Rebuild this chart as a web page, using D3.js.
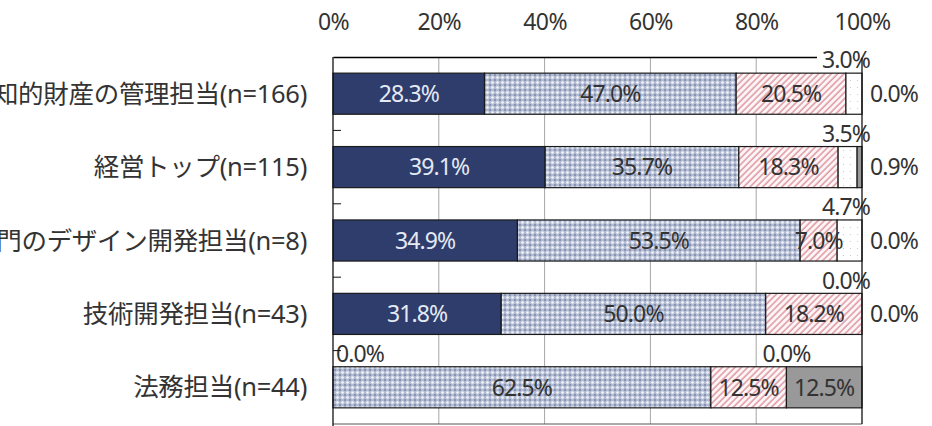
<!DOCTYPE html>
<html>
<head>
<meta charset="utf-8">
<script src="https://cdn.jsdelivr.net/npm/d3@7"></script>
<style>
  body { margin: 0; background: #fff; overflow: hidden; }
  text { font-family: "Noto Sans", "Noto Sans CJK JP", sans-serif; }
</style>
</head>
<body>
<div id="chart"></div>
<script>
// data
const categories = [
    "知的財産の管理担当(n=166)",
    "経営トップ(n=115)",
    "デザイン部門のデザイン開発担当(n=8)",
    "技術開発担当(n=43)",
    "法務担当(n=44)"
];
const keys = ["s1", "s2", "s3", "s4", "s5"];
const s1 = [28.3, 39.1, 34.9, 31.8, 0.0];
const s2 = [47.0, 35.7, 53.5, 50.0, 62.5];
const s3 = [20.5, 18.3, 7.0, 18.2, 12.5];
const s4 = [3.0, 3.5, 4.7, 0.0, 0.0];
const s5 = [0.0, 0.9, 0.0, 0.0, 12.5];
const tickValues = [0, 0.2, 0.4, 0.6, 0.8, 1];

const seriesValues = {s1, s2, s3, s4, s5};
const data = categories.map((c, i) => {
    const row = {cat: c};
    keys.forEach(k => row[k] = seriesValues[k][i]);
    return row;
});

// setup
const svgWidth = 932;
const svgHeight = 426;
const plot = {l: 333, r: 862, t: 57, b: 424};

const svg = d3.select("#chart").append("svg")
    .attr("width", svgWidth)
    .attr("height", svgHeight);

// fill patterns
const defs = svg.append("defs");

const dots = defs.append("pattern")
    .attr("id", "pDots")
    .attr("patternUnits", "userSpaceOnUse")
    .attr("width", 5).attr("height", 5);
dots.append("rect").attr("width", 5).attr("height", 5).attr("fill", "#b2bbd2");
dots.append("circle").attr("cx", 2.5).attr("cy", 2.5).attr("r", 1.3).attr("fill", "#f4f6fa");
[[0, 0], [5, 0], [0, 5], [5, 5]].forEach(p => dots.append("circle")
    .attr("cx", p[0]).attr("cy", p[1]).attr("r", 0.9).attr("fill", "#7380a3"));

const hatch = defs.append("pattern")
    .attr("id", "pHatch")
    .attr("patternUnits", "userSpaceOnUse")
    .attr("width", 4.5).attr("height", 4.5)
    .attr("patternTransform", "rotate(45)");
hatch.append("rect").attr("width", 4.5).attr("height", 4.5).attr("fill", "#fdf5f6");
hatch.append("line").attr("x1", 1).attr("y1", 0).attr("x2", 1).attr("y2", 4.5)
    .attr("stroke", "#d98a96").attr("stroke-width", 1.3);

const sparse = defs.append("pattern")
    .attr("id", "pSparse")
    .attr("patternUnits", "userSpaceOnUse")
    .attr("width", 7).attr("height", 7);
sparse.append("rect").attr("width", 7).attr("height", 7).attr("fill", "#fff");
sparse.append("circle").attr("cx", 3.5).attr("cy", 3.5).attr("r", 0.6).attr("fill", "#c4c4c4");

const fills = {s1: "#2e3d6b", s2: "url(#pDots)", s3: "url(#pHatch)", s4: "url(#pSparse)", s5: "#999999"};
const labelColors = {s1: "#e4e9f3", s2: "#333", s3: "#333", s4: "#333", s5: "#333"};

// scales
const x = d3.scaleLinear().domain([0, 1]).range([plot.l, plot.r]);
const y = d3.scaleBand().domain(categories).range([plot.t, plot.b])
    .paddingInner(0.44).paddingOuter(0.22);

// gridlines
svg.append("g")
    .selectAll("line")
    .data(tickValues.slice(1, -1))
    .enter()
    .append("line")
    .attr("x1", d => x(d)).attr("x2", d => x(d))
    .attr("y1", plot.t).attr("y2", plot.b)
    .attr("stroke", "#a6a6a6");

// bottom border
svg.append("line")
    .attr("x1", plot.l).attr("x2", plot.r)
    .attr("y1", plot.b).attr("y2", plot.b)
    .attr("stroke", "#555");

// top value axis
const topAxis = svg.append("g")
    .attr("transform", `translate(0,${plot.t})`)
    .call(d3.axisTop(x).tickValues(tickValues).tickFormat(d3.format(".0%")).tickSize(0).tickPadding(27));
topAxis.select(".domain").attr("stroke", "#000").attr("stroke-width", 1.3);
topAxis.selectAll("text")
    .attr("font-size", "23px")
    .attr("letter-spacing", "-0.6px")
    .attr("fill", "#333")
    .style("font-family", "\"Noto Sans\", sans-serif");

// stacked bars (100% stacked)
const stacked = d3.stack().keys(keys).offset(d3.stackOffsetExpand)(data);

const groups = svg.append("g")
    .selectAll("g")
    .data(stacked)
    .enter()
    .append("g")
    .attr("fill", d => fills[d.key]);

groups.selectAll("rect")
    .data(d => d)
    .enter()
    .append("rect")
    .attr("x", d => x(d[0]))
    .attr("y", d => y(d.data.cat))
    .attr("width", d => x(d[1]) - x(d[0]))
    .attr("height", y.bandwidth())
    .attr("stroke", "#1a1a1a")
    .attr("stroke-width", 1.2);

// data labels
const labels = [];
stacked.forEach(series => {
    series.forEach(d => {
        const x0 = x(d[0]), x1 = x(d[1]);
        const w = x1 - x0;
        const top = y(d.data.cat);
        const cy = top + y.bandwidth() / 2;
        const txt = d.data[series.key].toFixed(1) + "%";
        if (w >= 30) {
            labels.push({txt, x: (x0 + x1) / 2, y: cy, anchor: "middle", color: labelColors[series.key], bg: false});
        } else if (series.key === "s5") {
            labels.push({txt, x: plot.r + 8, y: cy, anchor: "start", color: "#333", bg: false});
        } else {
            const cx = Math.min(Math.max((x0 + x1) / 2, plot.l + 27), plot.r - 16);
            labels.push({txt, x: cx, y: top - 13, anchor: "middle", color: "#333", bg: true});
        }
    });
});

const labelGroup = svg.append("g");
labels.forEach(l => {
    const g = labelGroup.append("g");
    const t = g.append("text")
        .attr("x", l.x)
        .attr("y", l.y)
        .attr("dy", "0.36em")
        .attr("text-anchor", l.anchor)
        .attr("font-size", "23px")
        .attr("letter-spacing", "-0.9px")
        .attr("fill", l.color)
        .text(l.txt);
    if (l.bg) {
        const bb = t.node().getBBox();
        g.insert("rect", "text")
            .attr("x", bb.x - 5).attr("y", bb.y + 4)
            .attr("width", bb.width + 4).attr("height", bb.height - 8)
            .attr("fill", "#fff");
    }
});

// right border and left category axis
svg.append("line")
    .attr("x1", plot.r).attr("x2", plot.r)
    .attr("y1", plot.t + 1).attr("y2", plot.b)
    .attr("stroke", "#111").attr("stroke-width", 1.3);

svg.append("line")
    .attr("x1", plot.l).attr("x2", plot.l)
    .attr("y1", plot.t).attr("y2", svgHeight)
    .attr("stroke", "#111").attr("stroke-width", 1.3);

// ticks between categories
svg.append("g")
    .selectAll("line")
    .data(categories.slice(1))
    .enter()
    .append("line")
    .attr("x1", plot.l).attr("x2", plot.l + 8)
    .attr("y1", d => y(d) - y.step() * y.paddingInner() / 2)
    .attr("y2", d => y(d) - y.step() * y.paddingInner() / 2)
    .attr("stroke", "#111");

// category labels
svg.append("g")
    .selectAll("text")
    .data(categories)
    .enter()
    .append("text")
    .attr("x", 307)
    .attr("y", d => y(d) + y.bandwidth() / 2)
    .attr("dy", "0.36em")
    .attr("text-anchor", "end")
    .attr("font-size", "25.5px")
    .attr("letter-spacing", "-0.3px")
    .attr("fill", "#333")
    .text(d => d);
</script>
</body>
</html>
